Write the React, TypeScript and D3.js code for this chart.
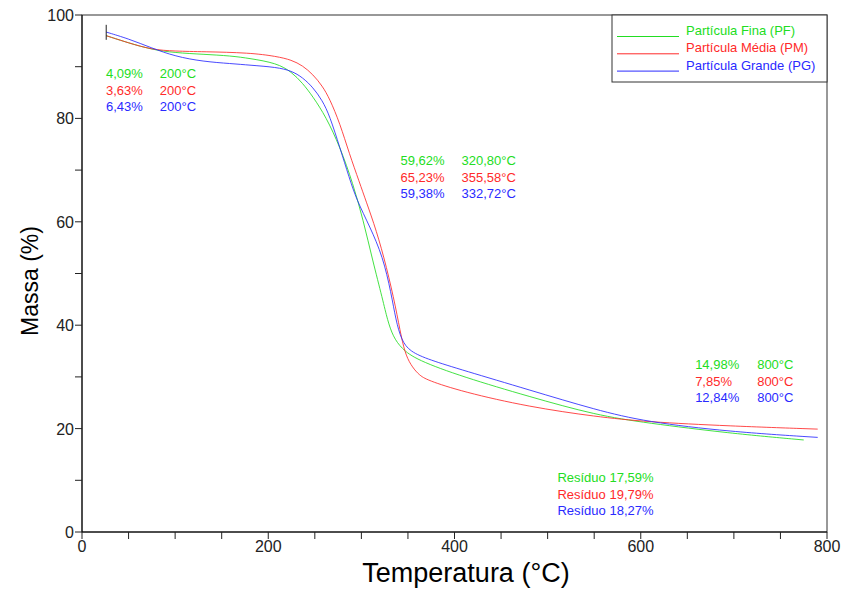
import * as d3 from 'd3'

// TGA curves [temperatura °C, massa %]
const pfCurve: [number, number][] = [
  [26, 96.0], [50, 94.6], [75, 93.3], [100, 92.7], [130, 92.4], [160, 92.1], [180, 91.6],
  [209, 90.7], [225, 89.0], [237, 86.8], [248, 84.2], [262, 80.3], [277, 74.5], [291, 67.4],
  [302, 60.3], [312, 52.6], [323, 44.9], [328, 41.0], [334, 37.8], [343, 35.5], [359, 33.3],
  [409, 30.0], [480, 26.2], [552, 22.6], [606, 21.1], [695, 19.1], [775, 17.8],
]
const pmCurve: [number, number][] = [
  [26, 96.0], [50, 94.6], [75, 93.3], [100, 93.0], [130, 92.9], [180, 92.7], [209, 92.0],
  [225, 91.3], [237, 90.2], [248, 88.5], [258, 86.3], [266, 83.8], [277, 79.0], [287, 73.2],
  [298, 67.6], [305, 64.0], [316, 58.4], [327, 51.3], [337, 43.4], [343, 37.5], [348, 34.0],
  [355, 31.8], [362, 30.4], [370, 29.4], [409, 27.1], [480, 24.2], [552, 22.3], [606, 21.3],
  [695, 20.5], [790, 19.9],
]
const pgCurve: [number, number][] = [
  [26, 96.7], [50, 95.4], [75, 93.6], [100, 92.0], [130, 91.0], [160, 90.6], [180, 90.3],
  [209, 89.9], [225, 89.2], [237, 87.9], [248, 86.0], [258, 83.5], [266, 80.5], [277, 74.3],
  [287, 68.5], [295, 64.2], [309, 59.1], [323, 53.3], [332, 46.2], [337, 41.0], [343, 37.1],
  [352, 34.9], [373, 33.3], [409, 31.3], [480, 27.5], [552, 23.6], [606, 21.3], [695, 19.4],
  [790, 18.3],
]

const seriesNames = ['Partícula Fina (PF)', 'Partícula Média (PM)', 'Partícula Grande (PG)']
const seriesColors = ['#22dd22', '#ff2a2a', '#2a2aff']

const step1Loss = ['4,09%', '3,63%', '6,43%']
const step1Temp = ['200°C', '200°C', '200°C']
const step2Loss = ['59,62%', '65,23%', '59,38%']
const step2Temp = ['320,80°C', '355,58°C', '332,72°C']
const step3Loss = ['14,98%', '7,85%', '12,84%']
const step3Temp = ['800°C', '800°C', '800°C']
const residues = ['Resíduo 17,59%', 'Resíduo 19,79%', 'Resíduo 18,27%']

const xMajor = [0, 200, 400, 600, 800]
const yMajor = [0, 20, 40, 60, 80, 100]

const W = 844
const H = 589
const margin = { top: 15, right: 17, bottom: 57, left: 82 }
const FONT = 'Liberation Sans, Arial, sans-serif'

export default function App() {
  const x = d3.scaleLinear().domain([0, 800]).range([margin.left, W - margin.right])
  const y = d3.scaleLinear().domain([0, 100]).range([H - margin.bottom, margin.top])
  const line = d3.line<[number, number]>()
    .x(d => x(d[0]))
    .y(d => y(d[1]))
    .curve(d3.curveBasis)

  const curves = [pfCurve, pmCurve, pgCurve]
  const xMinor = d3.range(0, 801, 50)
  const yMinor = d3.range(0, 101, 10)
  const rowH = 16.5

  const block = (cols: { t: number; m: number; vals: string[] }[]) =>
    cols.map((c, ci) =>
      c.vals.map((v, i) => (
        <text key={ci + '-' + i} x={x(c.t)} y={y(c.m) + i * rowH} fill={seriesColors[i]}
          fontSize={13} fontFamily={FONT}>{v}</text>
      )))

  const x0 = margin.left
  const x1 = W - margin.right
  const y0 = H - margin.bottom
  const y1 = margin.top

  return (
    <svg width={W} height={H} style={{ position: 'absolute', left: 0, top: 0, background: '#fff' }}>
      {/* curves */}
      <g fill="none" strokeWidth={1}>
        {curves.map((c, i) => (
          <path key={i} d={line(c) || ''} stroke={seriesColors[i]} strokeOpacity={0.85} />
        ))}
      </g>
      {/* start marker */}
      <line x1={x(26)} x2={x(26)} y1={y(98.1)} y2={y(95.2)} stroke="#222" />

      {/* frame */}
      <rect x={x0} y={y1} width={x1 - x0} height={y0 - y1} fill="none" stroke="#333" strokeWidth={1} />
      <line x1={x0} x2={x0} y1={y1} y2={y0} stroke="#000" />
      <line x1={x0} x2={x1} y1={y0} y2={y0} stroke="#000" />

      {/* x ticks */}
      {xMinor.map(v => (
        <line key={'xt' + v} x1={x(v)} x2={x(v)} y1={y0} y2={y0 + 7} stroke="#222" />
      ))}
      {xMajor.map(v => (
        <text key={'xl' + v} x={x(v)} y={y0 + 20} textAnchor="middle" fontSize={16}
          fill="#222" fontFamily={FONT}>{v}</text>
      ))}
      {/* y ticks */}
      {yMinor.map(v => (
        <line key={'yt' + v} x1={x0 - 7} x2={x0} y1={y(v)} y2={y(v)} stroke="#222" />
      ))}
      {yMajor.map(v => (
        <text key={'yl' + v} x={x0 - 8} y={y(v) + 6} textAnchor="end" fontSize={16}
          fill="#222" fontFamily={FONT}>{v}</text>
      ))}

      {/* axis titles */}
      <text x={466} y={H - 7} textAnchor="middle" fontSize={27} fill="#000"
        fontFamily={FONT}>Temperatura (°C)</text>
      <text transform={`translate(38, 281) rotate(-90)`} textAnchor="middle"
        fontSize={23} fill="#000" fontFamily={FONT}>Massa (%)</text>

      {/* annotations */}
      {block([{ t: 25.7, m: 87.8, vals: step1Loss }, { t: 83.6, m: 87.8, vals: step1Temp }])}
      {block([{ t: 342, m: 70.9, vals: step2Loss }, { t: 407.5, m: 70.9, vals: step2Temp }])}
      {block([{ t: 658.4, m: 31.5, vals: step3Loss }, { t: 725, m: 31.5, vals: step3Temp }])}
      {block([{ t: 510.5, m: 9.6, vals: residues }])}

      {/* legend */}
      <g>
        <rect x={612} y={y1} width={x1 - 612} height={67} fill="#fff" stroke="#333" />
        {seriesNames.map((n, i) => (
          <g key={n}>
            <line x1={617} x2={679} y1={36.5 + i * 17.3} y2={36.5 + i * 17.3} stroke={seriesColors[i]} />
            <text x={686} y={35 + i * 17.3} fill={seriesColors[i]} fontSize={13} fontFamily={FONT}>{n}</text>
          </g>
        ))}
      </g>
    </svg>
  )
}
